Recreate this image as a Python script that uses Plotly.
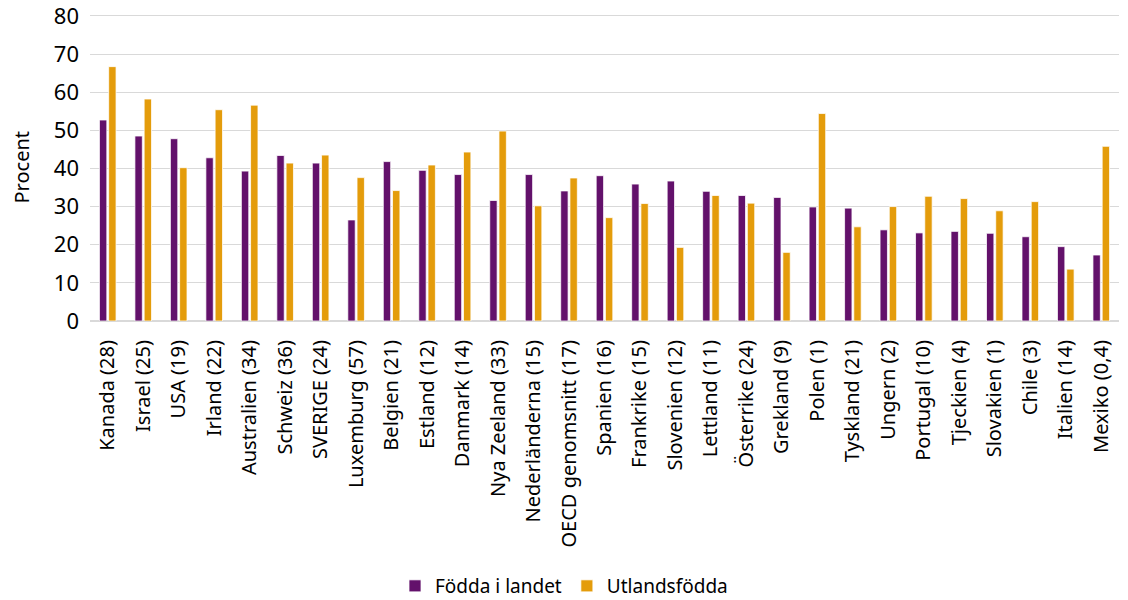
import plotly.graph_objects as go

categories = ["Kanada (28)", "Israel (25)", "USA (19)", "Irland (22)", "Australien (34)",
              "Schweiz (36)", "SVERIGE (24)", "Luxemburg (57)", "Belgien (21)", "Estland (12)",
              "Danmark (14)", "Nya Zeeland (33)", "Nederländerna (15)", "OECD genomsnitt (17)",
              "Spanien (16)", "Frankrike (15)", "Slovenien (12)", "Lettland (11)", "Österrike (24)",
              "Grekland (9)", "Polen (1)", "Tyskland (21)", "Ungern (2)", "Portugal (10)",
              "Tjeckien (4)", "Slovakien (1)", "Chile (3)", "Italien (14)", "Mexiko (0,4)"]

fodda_i_landet = [52.7, 48.5, 47.8, 42.8, 39.3, 43.4, 41.4, 26.5, 41.8, 39.5,
                  38.4, 31.6, 38.4, 34.1, 38.1, 35.9, 36.7, 34.0, 32.9, 32.4,
                  29.9, 29.6, 23.9, 23.1, 23.5, 23.0, 22.1, 19.5, 17.3]

utlandsfodda = [66.7, 58.2, 40.2, 55.4, 56.6, 41.4, 43.5, 37.6, 34.2, 40.9,
                44.3, 49.8, 30.2, 37.5, 27.1, 30.8, 19.3, 32.9, 30.9, 18.0,
                54.4, 24.7, 30.0, 32.7, 32.1, 28.9, 31.3, 13.6, 45.8]

y_ticks = [0, 10, 20, 30, 40, 50, 60, 70, 80]
y_title = "Procent"

font_family = "Noto Sans, Open Sans, sans-serif"

fig = go.Figure()
fig.add_trace(go.Bar(name="Födda i landet", x=categories, y=fodda_i_landet,
                     marker=dict(color="#63116B", line=dict(color="#FFFFFF", width=0.75))))
fig.add_trace(go.Bar(name="Utlandsfödda", x=categories, y=utlandsfodda,
                     marker=dict(color="#E49C0B", line=dict(color="#FFFFFF", width=0.75))))

fig.update_layout(
    width=1128, height=600,
    margin=dict(l=90, r=9, t=14, b=279),
    plot_bgcolor="white", paper_bgcolor="white",
    barmode="group", bargap=0.48, bargroupgap=0.2,
    font=dict(family=font_family, color="#000000", size=16),
    legend=dict(orientation="h", x=0.5, xanchor="center", xref="container",
                yref="container", y=(600 - 586) / 600, yanchor="middle",
                font=dict(size=19), traceorder="normal", itemwidth=30),
    showlegend=True,
)
fig.add_annotation(text=y_title, textangle=-90, xref="paper", yref="paper",
                   x=-(90 - 21) / 1029, y=0.5, xanchor="center", yanchor="middle",
                   showarrow=False, font=dict(size=20))
fig.update_xaxes(tickangle=-90, tickfont=dict(size=20), showgrid=False,
                 showline=True, linecolor="#D9D9D9", linewidth=1, ticks="",
                 ticklabelstandoff=10, automargin=False)
fig.update_yaxes(range=[0, 80.5], tickvals=y_ticks, tickfont=dict(size=22),
                 showgrid=True, gridcolor="#D9D9D9", gridwidth=1,
                 zeroline=True, zerolinecolor="#D9D9D9",
                 ticks="", ticklabelstandoff=10, ticklabeloverflow="allow",
                 automargin=False)

fig.write_html("out.html", config={"displayModeBar": False},
               post_script="document.body.style.margin='0';document.body.style.overflow='hidden';")
